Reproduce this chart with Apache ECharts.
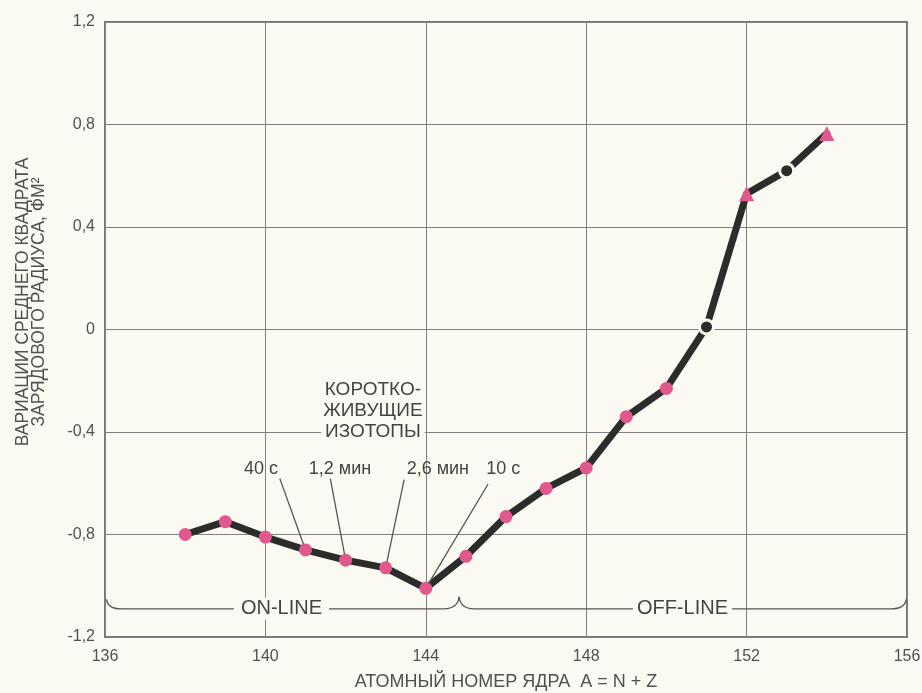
<!DOCTYPE html>
<html><head><meta charset="utf-8">
<script src="https://cdn.jsdelivr.net/npm/echarts@6/dist/echarts.min.js"></script>
<style>html,body{margin:0;padding:0;background:#fafaf2}#c{width:922px;height:693px}</style>
</head><body><div id="c"></div>
<script>
const massNumbers = [138,139,140,141,142,143,144,145,146,147,148,149,150,151,152,153,154];
const radiusVariation = [-0.80,-0.75,-0.81,-0.86,-0.90,-0.93,-1.01,-0.885,-0.73,-0.62,-0.54,-0.34,-0.23,0.01,0.53,0.62,0.765];
const pointKinds = ['p','p','p','p','p','p','p','p','p','p','p','p','p','b','t','b','t'];
const xTickValues = [136,140,144,148,152,156];
const yTickValues = [-1.2,-0.8,-0.4,0,0.4,0.8,1.2];
const yTickLabels = ['-1,2','-0,8','-0,4','0','0,4','0,8','1,2'];
const halfLives = ['40 с','1,2 мин','2,6 мин','10 с'];
const shortLivedIsotopes = [141,142,143,144];
const groupTitle = ['КОРОТКО-','ЖИВУЩИЕ','ИЗОТОПЫ'];
const rangeLabels = ['ON-LINE','OFF-LINE'];
const xAxisTitle = 'АТОМНЫЙ НОМЕР ЯДРА  A = N + Z';
const yAxisTitle = ['ВАРИАЦИИ СРЕДНЕГО КВАДРАТА','ЗАРЯДОВОГО РАДИУСА, ФМ²'];

const BG = '#fafaf2', PINK = '#e0588c', DARK = '#2c2c2c', TXT = '#505050';
const FONT = "'Liberation Sans', Arial, sans-serif";

const kindStyle = {
  p: {symbol:'circle', symbolSize:13, itemStyle:{color:PINK}},
  b: {symbol:'circle', symbolSize:14, itemStyle:{color:DARK, borderColor:BG, borderWidth:3}},
  t: {symbol:'triangle', symbolSize:15, itemStyle:{color:PINK}}
};
const lineData = massNumbers.map((x,i)=>Object.assign({value:[x, radiusVariation[i]]}, kindStyle[pointKinds[i]]));

// annotation anchors (layout, in data coordinates)
const leaderLabelPos = [[139.89,-0.546],[141.86,-0.546],[144.30,-0.546],[145.93,-0.546]];
const leaderStartPos = [[140.36,-0.582],[141.62,-0.582],[143.46,-0.586],[145.55,-0.604]];
const titlePos = [142.68,-0.318];
const braceY = -1.09, curlY = -1.043;

function renderNotes(params, api){
  const P = (x,y)=>api.coord([x,y]);
  const ls = {stroke:'#555', lineWidth:1.3, fill:null};
  const ch = [];
  const addLine=(a,b)=>ch.push({type:'line',shape:{x1:a[0],y1:a[1],x2:b[0],y2:b[1]},style:ls});
  const addQ=(a,c,b)=>ch.push({type:'bezierCurve',shape:{x1:a[0],y1:a[1],cpx1:c[0],cpy1:c[1],x2:b[0],y2:b[1]},style:ls});
  // braces
  addQ(P(136.04,curlY-0.01),P(136.07,braceY),P(136.4,braceY));
  addLine(P(136.4,braceY),P(144.45,braceY));
  addQ(P(144.45,braceY),P(144.8,braceY),P(144.83,curlY));
  addQ(P(144.83,curlY),P(144.86,braceY),P(145.2,braceY));
  addLine(P(145.2,braceY),P(155.6,braceY));
  addQ(P(155.6,braceY),P(155.95,braceY),P(155.98,curlY-0.01));
  // leaders
  shortLivedIsotopes.forEach((iso,k)=>{
    const i = massNumbers.indexOf(iso);
    const s = P(leaderStartPos[k][0],leaderStartPos[k][1]);
    const e = P(iso, radiusVariation[i]);
    const dx=e[0]-s[0], dy=e[1]-s[1], L=Math.hypot(dx,dy);
    addLine(s,[e[0]-dx/L*6, e[1]-dy/L*6]);
    const lp = P(leaderLabelPos[k][0],leaderLabelPos[k][1]);
    ch.push({type:'text',x:lp[0],y:lp[1],style:{text:halfLives[k],fill:'#444',font:"18px "+FONT,align:'center',verticalAlign:'middle'}});
  });
  // title
  const tp = P(titlePos[0],titlePos[1]);
  groupTitle.forEach((t,k)=>{
    ch.push({type:'text',x:tp[0],y:tp[1]+(k-1)*21,style:{text:t,fill:'#444',font:"19px "+FONT,align:'center',verticalAlign:'middle',
      backgroundColor: k===2?BG:null, padding: k===2?[0,4]:0}});
  });
  // range labels
  const r1 = P(140.4,braceY), r2 = P(150.4,braceY);
  ch.push({type:'text',x:r1[0],y:r1[1],style:{text:rangeLabels[0],fill:'#444',font:"20px "+FONT,align:'center',verticalAlign:'middle',backgroundColor:BG,padding:[1,7]}});
  ch.push({type:'text',x:r2[0],y:r2[1],style:{text:rangeLabels[1],fill:'#444',font:"20px "+FONT,align:'center',verticalAlign:'middle',backgroundColor:BG,padding:[1,4]}});
  return {type:'group',children:ch};
}

const chart = echarts.init(document.getElementById('c'), null, {renderer:'canvas'});
chart.setOption({
  backgroundColor: BG,
  animation: false,
  grid: {left:105, right:15, top:22, bottom:56, show:true, borderColor:'#777', borderWidth:2, backgroundColor:'transparent',
         containLabel:false, outerBoundsMode:'none'},
  xAxis: {type:'value', min:136, max:156, interval:4,
    axisLine:{show:false}, axisTick:{show:false},
    splitLine:{show:true, lineStyle:{color:'#808080', width:1}},
    axisLabel:{margin:12, fontSize:16, color:TXT, fontFamily:FONT, formatter:v=>xTickValues.includes(v)?String(v):''},
    name:xAxisTitle, nameLocation:'middle', nameGap:36,
    nameTextStyle:{fontSize:18, color:TXT, fontFamily:FONT}},
  yAxis: {type:'value', min:-1.2, max:1.2, interval:0.4,
    axisLine:{show:false}, axisTick:{show:false},
    splitLine:{show:true, lineStyle:{color:'#808080', width:1}},
    axisLabel:{margin:10, fontSize:16, color:TXT, fontFamily:FONT,
      formatter:v=>{const i=yTickValues.findIndex(t=>Math.abs(t-v)<1e-6);return i>=0?yTickLabels[i]:'';}}},
  graphic: [{type:'text', x:31, y:302, rotation:Math.PI/2,
    style:{text:yAxisTitle.join('\n'), fill:TXT, font:"17.5px "+FONT, align:'center', verticalAlign:'middle', lineHeight:16}}],
  series: [
    {type:'line', data:lineData, showAllSymbol:true, z:2,
     lineStyle:{width:7, color:DARK, join:'round', cap:'round'}},
    {type:'custom', data:[[136,0]], renderItem:renderNotes, z:3, silent:true, clip:false}
  ]
});
</script></body></html>
